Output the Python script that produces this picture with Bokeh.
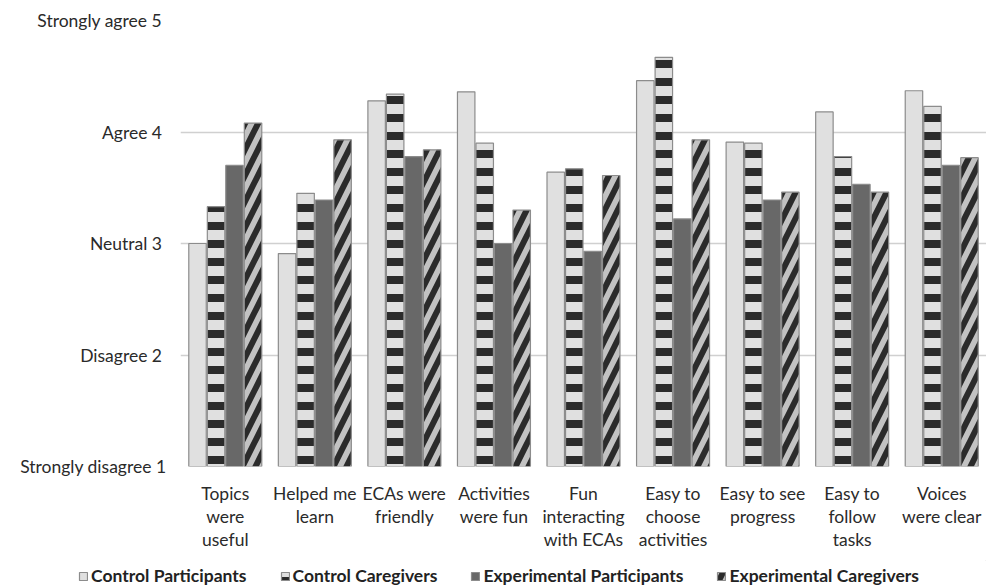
from bokeh.plotting import figure
from bokeh.layouts import column, row
from bokeh.models import FactorRange, Range1d, FixedTicker, Legend, LegendItem, ColumnDataSource
from bokeh.transform import dodge
from bokeh.embed import file_html
from bokeh.resources import INLINE

categories = ["Topics\nwere\nuseful", "Helped me\nlearn", "ECAs were\nfriendly",
              "Activities\nwere fun", "Fun\ninteracting\nwith ECAs", "Easy to\nchoose\nactivities",
              "Easy to see\nprogress", "Easy to\nfollow\ntasks", "Voices\nwere clear"]
control_participants = [3.00, 2.91, 4.28, 4.36, 3.64, 4.46, 3.91, 4.18, 4.37]
control_caregivers = [3.33, 3.45, 4.34, 3.90, 3.67, 4.67, 3.90, 3.78, 4.23]
experimental_participants = [3.70, 3.39, 3.78, 3.00, 2.93, 3.22, 3.39, 3.53, 3.70]
experimental_caregivers = [4.08, 3.93, 3.84, 3.30, 3.61, 3.93, 3.46, 3.46, 3.77]
series_names = ["Control Participants", "Control Caregivers",
                "Experimental Participants", "Experimental Caregivers"]
y_ticks = [1, 2, 3, 4, 5]
y_tick_labels = ["Strongly disagree 1", "Disagree  2", "Neutral  3", "Agree  4", "Strongly agree  5"]

source = ColumnDataSource(dict(cats=categories, cp=control_participants, cc=control_caregivers,
                               ep=experimental_participants, ec=experimental_caregivers))

FONT = "Lato"
p = figure(x_range=FactorRange(factors=categories), y_range=Range1d(1, 5),
           width=986, height=560, output_backend="svg", toolbar_location=None,
           min_border_left=180, min_border_right=0, min_border_top=20, min_border_bottom=94)
p.outline_line_color = None
p.background_fill_color = "white"
p.border_fill_color = "white"

W = 0.195
styles = [
    dict(fill_color="#e0e0e0", line_color="#8c8c8c"),
    dict(fill_color="#e0e0e0", line_color="#8c8c8c", hatch_pattern="horizontal_line",
         hatch_color="#2b2b2b", hatch_scale=18, hatch_weight=8),
    dict(fill_color="#686868", line_color="#8c8c8c"),
    dict(fill_color="#c2c2c2", line_color="#8c8c8c", hatch_pattern="right_diagonal_line",
         hatch_color="#2b2b2b", hatch_scale=26, hatch_weight=6),
]
offsets = [-0.31, -0.103, 0.103, 0.31]
cols = ["cp", "cc", "ep", "ec"]
for col, off, st in zip(cols, offsets, styles):
    p.vbar(x=dodge("cats", off, range=p.x_range), top=col, bottom=1, width=W,
           source=source, line_width=1.2, **st)

p.ygrid.grid_line_color = "#d0d0d0"
p.ygrid.grid_line_width = 1.5
p.xgrid.grid_line_color = None
p.yaxis.ticker = FixedTicker(ticks=y_ticks)
p.yaxis.major_label_overrides = {t: l for t, l in zip(y_ticks, y_tick_labels)}
p.yaxis.axis_line_color = None
p.yaxis.major_tick_line_color = None
p.yaxis.minor_tick_line_color = None
p.yaxis.major_label_standoff = 8
p.yaxis.major_label_text_font = FONT
p.yaxis.major_label_text_font_size = "17.5px"
p.yaxis.major_label_text_color = "#2a2a2a"

p.xaxis.axis_line_color = None
p.xaxis.major_tick_line_color = None
p.xaxis.major_label_standoff = 10
p.xaxis.major_label_text_font = FONT
p.xaxis.major_label_text_font_size = "17.5px"
p.xaxis.major_label_text_color = "#2a2a2a"
p.xaxis.major_label_text_line_height = 1.1
p.xaxis.major_label_orientation = "horizontal"

# legend strip below the chart
lg = figure(width=986, height=28, output_backend="svg", toolbar_location=None,
            x_range=Range1d(0, 1), y_range=Range1d(0, 1),
            min_border_left=0, min_border_right=0, min_border_top=0, min_border_bottom=0)
lg.axis.visible = False
lg.grid.visible = False
lg.outline_line_color = None
items = []
for st, name in zip(styles, series_names):
    r = lg.vbar(x=[10], top=[10], bottom=9, width=0.1, line_width=1.2, **st)
    items.append(LegendItem(label=name, renderers=[r]))
legend = Legend(items=items, orientation="horizontal", location=(78, 2),
                label_text_font=FONT, label_text_font_size="17.5px", label_text_font_style="bold",
                label_text_color="#222222", glyph_width=10, glyph_height=10, label_standoff=3,
                spacing=33, padding=0, margin=0, border_line_color=None,
                background_fill_alpha=0)
lg.add_layout(legend, "center")

layout = column(p, row(lg), spacing=0)
open("out.html", "w").write(file_html(layout, INLINE))
